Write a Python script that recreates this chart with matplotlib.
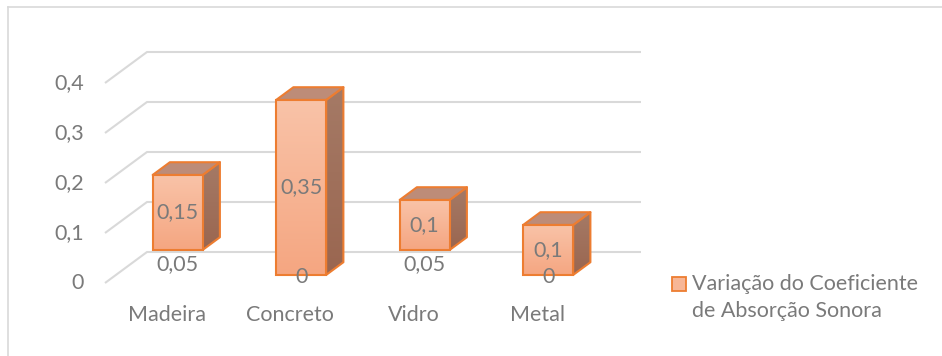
import matplotlib
matplotlib.use("Agg")
import matplotlib.pyplot as plt
import numpy as np
from matplotlib.patches import Rectangle, Polygon
from matplotlib.lines import Line2D
from matplotlib.colors import LinearSegmentedColormap

plt.rcParams['font.family'] = ['Lato', 'DejaVu Sans']

categories = ["Madeira", "Concreto", "Vidro", "Metal"]
base_values = [0.05, 0.0, 0.05, 0.0]      # invisible lower series
range_values = [0.15, 0.35, 0.1, 0.1]     # visible series
yticks = [0, 0.1, 0.2, 0.3, 0.4]
legend_label = "Variação do Coeficiente\nde Absorção Sonora"

def fmt(v):
    s = f"{v:.2f}".rstrip("0").rstrip(".")
    return s.replace(".", ",")

W, H = 942, 356
FS = 15.5
fig = plt.figure(figsize=(W / 100, H / 100), dpi=100)
ax = fig.add_axes([0, 0, 1, 1])
ax.set_axis_off()

# pixel geometry of the front plane
px0, pcat = 105.0, 123.5
py0, pval = 283.0, 500.0
ax.set_xlim((0 - px0) / pcat - 0.5, (W - px0) / pcat - 0.5)
ax.set_ylim((py0 - H) / pval, py0 / pval)

ddx, ddy = 42.0 / pcat, 31.0 / pval   # full depth offset in data units
def P(x, y, d):
    return (x + d * ddx, y + d * ddy)

grid_c = "#d9d9d9"
text_c = "#7a7a7a"
edge_c = "#ED7D31"
top_c = "#BD8C78"

n = len(categories)
xl, xr = -0.5, n - 0.5
for v in yticks:
    a = P(xl, v, 0); b = P(xl, v, 1); c = P(xr, v, 1)
    ax.plot([a[0], b[0], c[0]], [a[1], b[1], c[1]], color=grid_c, lw=1.5, zorder=1,
            solid_capstyle="butt")
    ax.text(xl - 21 / pcat, v, fmt(v), ha="right", va="center", fontsize=FS, color=text_c)

bw = 50.0 / pcat
d0, d1 = 0.26, 0.67
grad = np.linspace(0, 1, 256).reshape(-1, 1)
cmap = LinearSegmentedColormap.from_list("g", ["#F5A681", "#F9C3A8"])
side_cmap = LinearSegmentedColormap.from_list("s", ["#9A6650", "#A57A66"])

for i, (cat, b, r) in enumerate(zip(categories, base_values, range_values)):
    x0 = i - bw / 2
    x1 = i + bw / 2
    y0 = b
    y1 = b + r
    # front face
    fx0, fy0 = P(x0, y0, d0)
    fx1, fy1 = P(x1, y1, d0)
    rect = Rectangle((fx0, fy0), fx1 - fx0, fy1 - fy0, facecolor="none",
                     edgecolor=edge_c, lw=1.5, zorder=5)
    im = ax.imshow(grad, extent=[fx0, fx1, fy0, fy1], origin="lower", cmap=cmap,
                   aspect="auto", zorder=4, interpolation="bilinear")
    ax.add_patch(rect)
    im.set_clip_path(rect)
    # side face
    side = Polygon([P(x1, y0, d0), P(x1, y0, d1), P(x1, y1, d1), P(x1, y1, d0)],
                   closed=True, facecolor="none", edgecolor=edge_c, lw=1.5, zorder=3,
                   joinstyle="round")
    sx0 = P(x1, y0, d0)[0]; sx1 = P(x1, y0, d1)[0]
    sim = ax.imshow(grad, extent=[sx0, sx1, P(0, y0, d0)[1], P(0, y1, d1)[1]],
                    origin="lower", cmap=side_cmap, aspect="auto", zorder=2.9,
                    interpolation="bilinear")
    ax.add_patch(side)
    sim.set_clip_path(side)
    top = Polygon([P(x0, y1, d0), P(x0, y1, d1), P(x1, y1, d1), P(x1, y1, d0)],
                  closed=True, facecolor=top_c, edgecolor=edge_c, lw=1.5, zorder=3,
                  joinstyle="round")
    ax.add_patch(top)
    cx = (fx0 + fx1) / 2
    # labels
    ax.text(cx, P(0, y0 + r / 2, d0)[1], fmt(r), ha="center", va="center",
            fontsize=FS, color=text_c, zorder=6)
    ax.text(cx, P(0, b / 2, d0)[1] - 2 / pval, fmt(b), ha="center", va="center",
            fontsize=FS, color=text_c, zorder=6)
    # category label
    ax.text(i, -32 / pval, cat, ha="center", va="center", fontsize=FS, color=text_c)

# legend
lx = (672 - px0) / pcat - 0.5
ly = (py0 - 291) / pval
ax.add_patch(Rectangle((lx, ly), 14 / pcat, 14 / pval, facecolor="#F7B696",
                       edgecolor=edge_c, lw=1.3, zorder=5))
ax.text((692 - px0) / pcat - 0.5, (py0 - 297.5) / pval, legend_label, ha="left",
        va="center", fontsize=FS, color=text_c, linespacing=1.4)

# chart border
fig.add_artist(Line2D([7.5 / W, 1], [1 - 6.5 / H, 1 - 6.5 / H], color=grid_c, lw=1.2,
                      transform=fig.transFigure))
fig.add_artist(Line2D([7.5 / W, 7.5 / W], [0, 1 - 6.5 / H], color=grid_c, lw=1.2,
                      transform=fig.transFigure))

fig.savefig("out.png", dpi=100, facecolor="white")
